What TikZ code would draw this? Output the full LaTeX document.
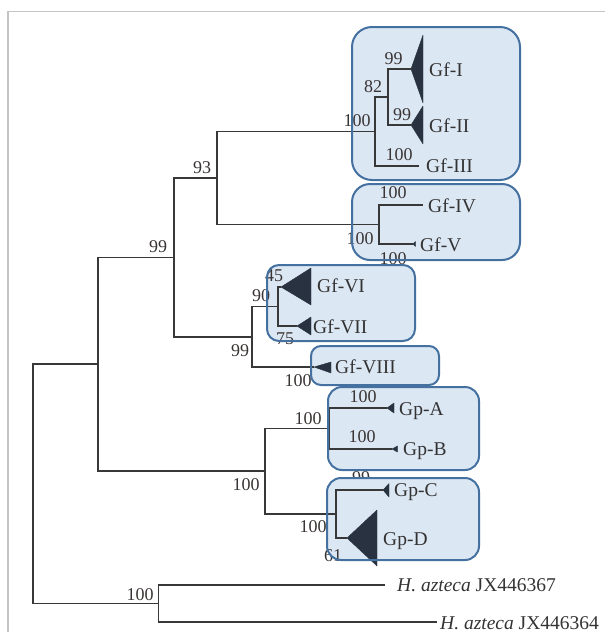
\documentclass[tikz,border=0pt]{standalone}
\usepackage{fontspec}
\setmainfont{Liberation Serif}
\definecolor{boxfill}{HTML}{DCE7F4}
\definecolor{boxline}{HTML}{44719F}
\definecolor{treeline}{HTML}{383838}
\definecolor{tri}{HTML}{283240}
\definecolor{framec}{HTML}{C4C4C4}
\definecolor{bsc}{HTML}{3A3434}
\definecolor{txc}{HTML}{333333}
\begin{document}
\begin{tikzpicture}[x=1pt,y=-1pt,
  branch/.style={draw=treeline, line width=1.8pt},
  clade/.style={fill=tri, draw=tri, line width=0.4pt, line join=round},
  bs/.style={anchor=base, inner sep=0pt, text=bsc, font=\fontsize{18}{18}\selectfont},
  taxon/.style={anchor=base west, inner sep=0pt, text=txc, font=\fontsize{19.5}{19.5}\selectfont},
  boxfillst/.style={fill=boxfill, rounded corners=#1},
  boxlinest/.style={draw=boxline, line width=2pt, rounded corners=#1}]
\useasboundingbox (0,0) rectangle (605,632);
% frame
\draw[framec, line width=1.7pt] (8,632) -- (8,11.5) -- (605,11.5);

% label hidden partly under box
\node[bs] (b20) at (361,483) {99};

% box fills
\fill[boxfillst=20] (352,27) rectangle (520,180);
\fill[boxfillst=18] (352,184) rectangle (520,260);
\fill[boxfillst=12] (267,265) rectangle (415,341);
\fill[boxfillst=10] (311,346) rectangle (439,385);
\fill[boxfillst=14] (328,387) rectangle (479,470);
\fill[boxfillst=14] (327,478) rectangle (479,560);

% internal nodes
\coordinate (root) at (33,483.9);
\coordinate (nA) at (98,364.3);
\coordinate (nOut) at (158.5,603.5);
\coordinate (nB) at (174,257.4);
\coordinate (nGp) at (265,471.25);
\coordinate (nC) at (217,178);
\coordinate (nD) at (252,336.75);
\coordinate (nE) at (375,131.5);
\coordinate (nF) at (379,224.5);
\coordinate (nG) at (388,97);
\coordinate (nH) at (278,306.5);
\coordinate (nI) at (329,428.5);
\coordinate (nJ) at (336,514);
% leaf ends
\coordinate (lGfI) at (411,69);
\coordinate (lGfII) at (411,125);
\coordinate (lGfIII) at (419,166);
\coordinate (lGfIV) at (423,205);
\coordinate (lGfV) at (413,244);
\coordinate (lGfVI) at (281,287);
\coordinate (lGfVII) at (297,326);
\coordinate (lGfVIII) at (314,367);
\coordinate (lGpA) at (387,408);
\coordinate (lGpB) at (392,449);
\coordinate (lGpC) at (383,490);
\coordinate (lGpD) at (347,538);
\coordinate (lO1) at (385,585);
\coordinate (lO2) at (437,622);

% branches
\foreach \p/\c in {root/nA, root/nOut, nA/nB, nA/nGp, nB/nC, nB/nD,
  nC/nE, nC/nF, nE/nG, nE/lGfIII, nG/lGfI, nG/lGfII, nF/lGfIV, nF/lGfV,
  nD/nH, nD/lGfVIII, nH/lGfVI, nH/lGfVII, nGp/nI, nGp/nJ,
  nI/lGpA, nI/lGpB, nJ/lGpC, nJ/lGpD, nOut/lO1, nOut/lO2}
  \draw[branch] (\p) |- (\c);

% collapsed clades
\fill[clade] (lGfI) -- (423,35) -- (423,103) -- cycle;
\fill[clade] (lGfII) -- (423,106) -- (423,144) -- cycle;
\fill[clade] (lGfV) -- (415.5,241.5) -- (415.5,246.5) -- cycle;
\fill[clade] (lGfVI) -- (311,268) -- (311,305) -- cycle;
\fill[clade] (lGfVII) -- (311,317) -- (311,335) -- cycle;
\fill[clade] (lGfVIII) -- (331,362) -- (331,373) -- cycle;
\fill[clade] (lGpA) -- (394,403) -- (394,413) -- cycle;
\fill[clade] (lGpB) -- (397.5,446) -- (397.5,452) -- cycle;
\fill[clade] (lGpC) -- (389,483.5) -- (389,497) -- cycle;
\fill[clade] (lGpD) -- (377,510) -- (377,566) -- cycle;

% taxon labels
\node[taxon] (tGfI) at (429,76) {Gf-I};
\node[taxon] (tGfII) at (429,132) {Gf-II};
\node[taxon] (tGfIII) at (426,172) {Gf-III};
\node[taxon] (tGfIV) at (428,212) {Gf-IV};
\node[taxon] (tGfV) at (420,251) {Gf-V};
\node[taxon] (tGfVI) at (317,292) {Gf-VI};
\node[taxon] (tGfVII) at (313,333) {Gf-VII};
\node[taxon] (tGfVIII) at (335,373) {Gf-VIII};
\node[taxon] (tGpA) at (399,415) {Gp-A};
\node[taxon] (tGpB) at (403,455) {Gp-B};
\node[taxon] (tGpC) at (394,496) {Gp-C};
\node[taxon] (tGpD) at (383,545) {Gp-D};
\node[taxon] (tO1) at (397,591) {\textit{H. azteca} JX446367};
\node[taxon] (tO2) at (440,629) {\textit{H. azteca} JX446364};

% bootstrap values
\node[bs] (b1) at (357,126) {100};
\node[bs] (b2) at (373,92) {82};
\node[bs] (b3) at (393.5,64) {99};
\node[bs] (b4) at (402,120) {99};
\node[bs] (b5) at (399,160) {100};
\node[bs] (b6) at (393,198) {100};
\node[bs] (b7) at (360,244) {100};
\node[bs] (b8) at (393,264) {100};
\node[bs] (b9) at (202,173) {93};
\node[bs] (b10) at (158,252) {99};
\node[bs] (b11) at (240,356) {99};
\node[bs] (b12) at (261,301) {90};
\node[bs] (b13) at (274,281) {45};
\node[bs] (b14) at (285,344) {75};
\node[bs] (b15) at (298,386) {100};
\node[bs] (b16) at (246,490) {100};
\node[bs] (b17) at (308,424) {100};
\node[bs] (b18) at (363,402) {100};
\node[bs] (b19) at (362,442) {100};
\node[bs] (b21) at (313,532) {100};
\node[bs] (b22) at (333,561) {61};
\node[bs] (b23) at (140,600) {100};

% box borders
\draw[boxlinest=20] (352,27) rectangle (520,180);
\draw[boxlinest=18] (352,184) rectangle (520,260);
\draw[boxlinest=12] (267,265) rectangle (415,341);
\draw[boxlinest=10] (311,346) rectangle (439,385);
\draw[boxlinest=14] (328,387) rectangle (479,470);
\draw[boxlinest=14] (327,478) rectangle (479,560);
\end{tikzpicture}
\end{document}
